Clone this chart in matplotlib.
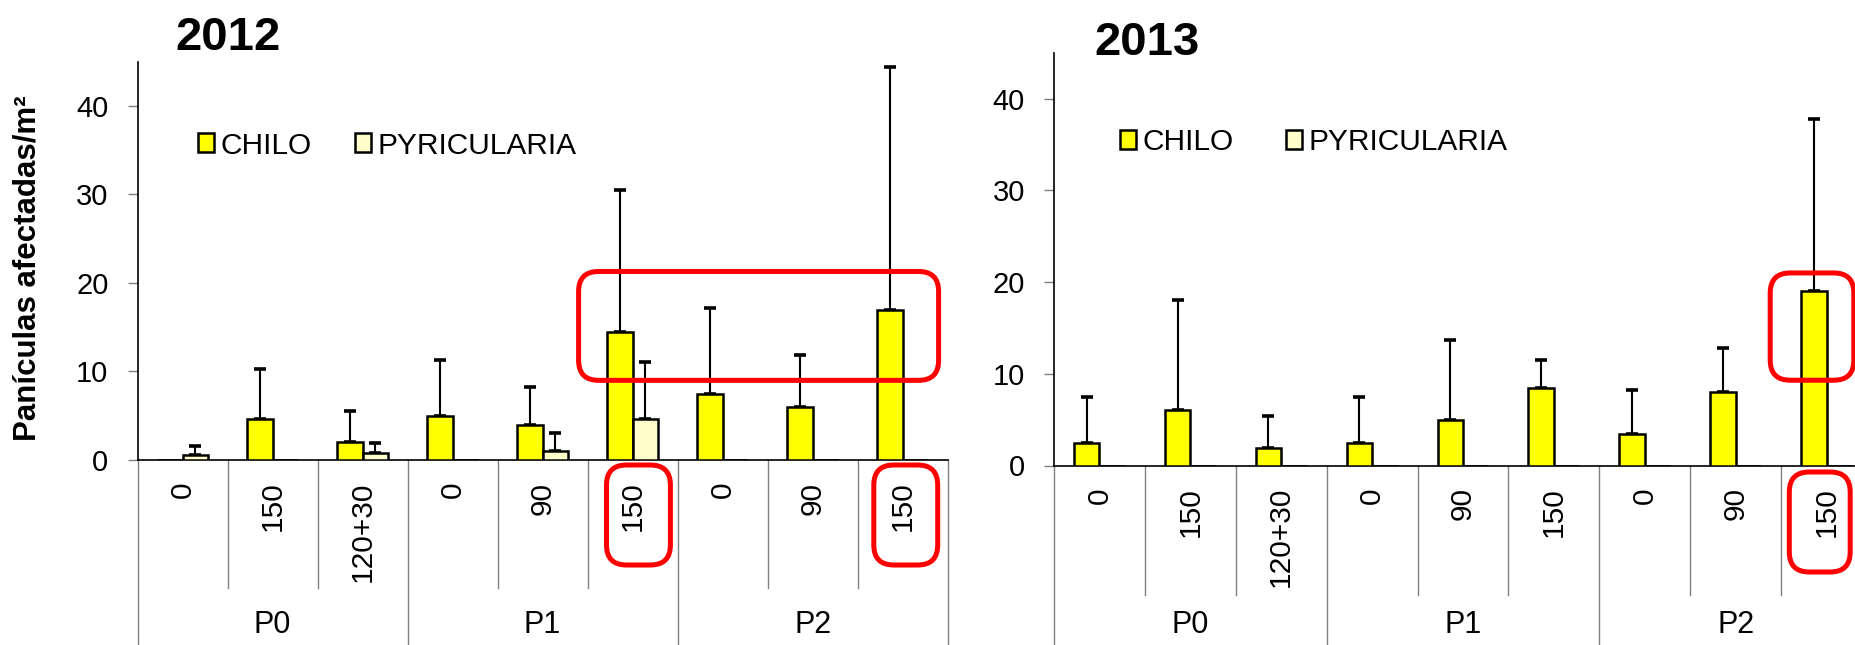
import numpy as np
import matplotlib
matplotlib.use("Agg")
import matplotlib.pyplot as plt
from matplotlib import transforms
from matplotlib.patches import FancyBboxPatch

plt.rcParams['font.family'] = ['Liberation Sans', 'DejaVu Sans']

# ---------------- data ----------------
doses = ["0", "150", "120+30", "0", "90", "150", "0", "90", "150"]
groups = ["P0", "P1", "P2"]
series = ["CHILO", "PYRICULARIA"]

chilo_2012 = [0, 4.6, 2.0, 5.0, 4.0, 14.5, 7.5, 6.0, 17.0]
chilo_2012_top = [0, 10.3, 5.5, 11.3, 8.3, 30.5, 17.2, 11.9, 44.4]
pyri_2012 = [0.6, 0, 0.75, 0, 1.05, 4.6, 0, 0, 0]
pyri_2012_top = [1.6, 0, 1.9, 0, 3.0, 11.1, 0, 0, 0]

chilo_2013 = [2.45, 6.0, 1.95, 2.45, 5.0, 8.45, 3.45, 8.0, 19.0]
chilo_2013_top = [7.5, 18.0, 5.4, 7.5, 13.7, 11.5, 8.2, 12.8, 37.8]
pyri_2013 = [0, 0, 0, 0, 0, 0, 0, 0, 0]
pyri_2013_top = [0, 0, 0, 0, 0, 0, 0, 0, 0]

years = ["2012", "2013"]
ylabel = "Panículas afectadas/m²"

# ---------------- style ----------------
W, H = 1856, 645
fig = plt.figure(figsize=(W / 100, H / 100), dpi=100)
C_CHILO = "#FFFF00"
C_PYRI = "#FFFFCC"
BW = 0.28

def fy(px):
    return 1 - px / H

axL = fig.add_axes([137.6 / W, fy(460), 810 / W, 398.3 / H])
axR = fig.add_axes([1054 / W, fy(465.5), 818 / W, 412.6 / H])

panels = [
    (axL, chilo_2012, chilo_2012_top, pyri_2012, pyri_2012_top, 460, 588),
    (axR, chilo_2013, chilo_2013_top, pyri_2013, pyri_2013_top, 465.5, 595),
]

for ax, cv, ct, pv, pt_, zero_px, sep_px in panels:
    x = np.arange(len(doses))
    cv = np.array(cv, float); ct = np.array(ct, float)
    pv = np.array(pv, float); pt_ = np.array(pt_, float)
    ax.bar(x - BW / 2, cv, BW, color=C_CHILO, edgecolor="black", linewidth=1.8,
           label=series[0], zorder=3)
    ax.bar(x + BW / 2, pv, BW, color=C_PYRI, edgecolor="black", linewidth=1.8,
           label=series[1], zorder=3)
    m = ct > cv
    ax.errorbar(x[m] - BW / 2, cv[m], yerr=[np.zeros(m.sum()), (ct - cv)[m]], fmt="none",
                ecolor="black", elinewidth=1.5, capsize=4.5, capthick=2.6, zorder=2)
    m = pt_ > pv
    ax.errorbar(x[m] + BW / 2, pv[m], yerr=[np.zeros(m.sum()), (pt_ - pv)[m]], fmt="none",
                ecolor="black", elinewidth=1.5, capsize=4.5, capthick=2.6, zorder=2)
    ax.set_xlim(-0.5, len(doses) - 0.5)
    ax.set_ylim(0, 45)
    ax.set_yticks([0, 10, 20, 30, 40])
    ax.tick_params(axis="y", labelsize=21, length=7, width=1, color="#808080", pad=14)
    ax.set_xticks(x)
    ax.set_xticklabels(doses, rotation=90, fontsize=21.5)
    ax.tick_params(axis="x", length=0, pad=15.5)
    for s in ["top", "right"]:
        ax.spines[s].set_visible(False)
    ax.spines["left"].set_linewidth(1.2)
    ax.spines["bottom"].set_linewidth(1.2)
    ax.patch.set_alpha(0)

    bt = transforms.blended_transform_factory(ax.transData, fig.transFigure)
    for k in range(len(doses) + 1):
        xb = k - 0.5
        bottom = fy(650) if k % 3 == 0 else fy(sep_px)
        ax.plot([xb, xb], [fy(zero_px), bottom], color="#808080", lw=1,
                transform=bt, clip_on=False, zorder=1)
    for g, name in enumerate(groups):
        ax.text(3 * g + 1, fy(625), name, transform=bt, ha="center", va="center",
                fontsize=22)

fig.text(175 / W, fy(50), years[0], fontsize=34, fontweight="bold", ha="left", va="baseline")
fig.text(1094 / W, fy(55), years[1], fontsize=34, fontweight="bold", ha="left", va="baseline")
fig.text(28 / W, fy(268), ylabel, rotation=90, fontsize=22.5, fontweight="bold",
         ha="center", va="center")

for ax, x0, yc, cs in [(axL, 198, 145.5, 1.45), (axR, 1120, 142.5, 1.75)]:
    ax.legend(loc="center left", bbox_to_anchor=(x0 / W, fy(yc)), bbox_transform=fig.transFigure,
              ncol=2, frameon=False, fontsize=21.5, handlelength=0.55, handleheight=0.6,
              handletextpad=0.2, columnspacing=cs, borderpad=0, borderaxespad=0)

def red_box(x0, x1, y0, y1):
    w = (x1 - x0) / 100
    h = (y1 - y0) / 100
    p = FancyBboxPatch((x0 / 100, (H - y1) / 100), w, h,
                       boxstyle="round,pad=0,rounding_size=0.2",
                       transform=fig.dpi_scale_trans, fill=False,
                       edgecolor="#FF0000", linewidth=3.6, zorder=10, clip_on=False)
    fig.add_artist(p)

def data_x_px(ax, xd):
    return ax.transData.transform((xd, 0))[0]

def data_y_px(ax, yd):
    return H - ax.transData.transform((0, yd))[1]

red_box(data_x_px(axL, 4.4), data_x_px(axL, 8.4), data_y_px(axL, 21.3), data_y_px(axL, 9.0))
red_box(data_x_px(axL, 4.71), data_x_px(axL, 5.42), 465, 565)
red_box(data_x_px(axL, 7.68), data_x_px(axL, 8.39), 465, 565)
red_box(data_x_px(axR, 7.38), data_x_px(axR, 8.3), data_y_px(axR, 21.0), data_y_px(axR, 9.3))
red_box(data_x_px(axR, 7.59), data_x_px(axR, 8.26), 472, 572)

fig.savefig("out.png", dpi=100)
